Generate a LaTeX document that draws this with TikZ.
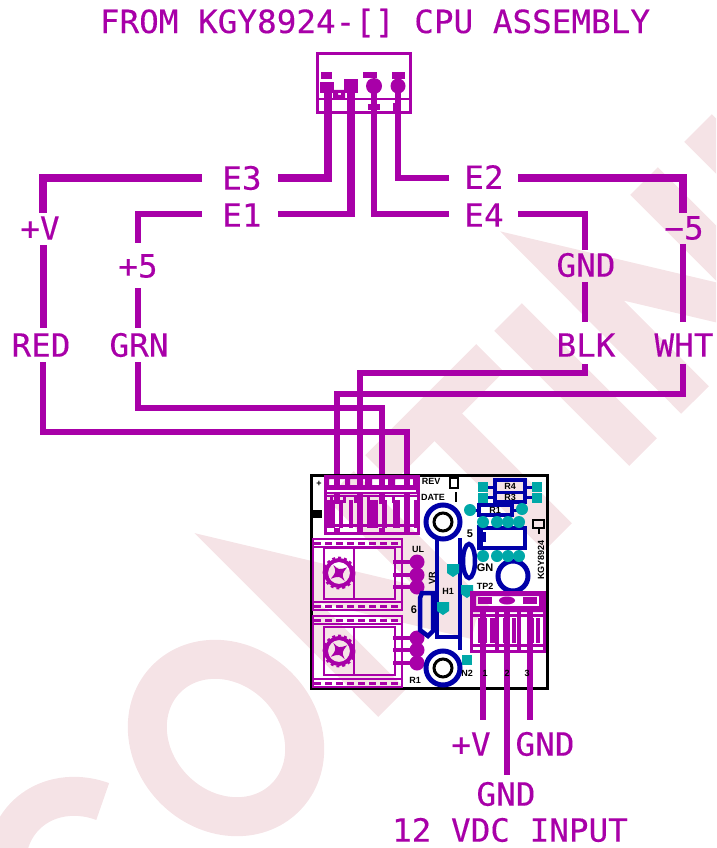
\documentclass[tikz,border=0pt]{standalone}
\usepackage{fontspec}
\setmainfont[FakeStretch=1.02,FakeBold=0.25]{DejaVu Sans Mono}
\newfontfamily\boardfont{Liberation Sans}
\definecolor{wm}{RGB}{245,227,230}
\definecolor{pur}{RGB}{168,0,168}
\definecolor{blu}{RGB}{0,0,168}
\definecolor{tea}{RGB}{0,168,168}
\tikzset{
  lab/.style={text=pur,font=\fontsize{32}{32}\selectfont,inner sep=0pt,anchor=center},
  heavy/.style={draw=pur,line width=8pt,line cap=butt,line join=miter},
  wire/.style={draw=pur,line width=6pt,line cap=butt,line join=miter},
  wmk/.style={draw=wm,line width=39pt,line cap=butt,line join=miter},
  fine/.style={draw=pur,line width=2pt},
  bl/.style={draw=blu,line width=4.5pt},
  tdot/.style={fill=tea},
  tiny/.style={text=black,font=\boardfont\bfseries\fontsize{11}{11}\selectfont,inner sep=0pt},
  small/.style={text=black,font=\boardfont\bfseries\fontsize{9}{9}\selectfont,inner sep=0pt},
}
\begin{document}
\begin{tikzpicture}[x=1pt,y=-1pt]
\useasboundingbox (0,0) rectangle (716,848);
\begin{scope}
\clip (0,0) rectangle (716,848);
% watermark
\begin{scope}[shift={(85,875)},rotate=45]
  \draw[wmk] (28:73 and 84) arc[start angle=28,end angle=332,x radius=73,y radius=84];
\end{scope}
\begin{scope}[shift={(226,738)},rotate=45]
  \draw[wmk] (0,0) ellipse[x radius=73,y radius=84];
\end{scope}
\draw[wmk] (392,703)--(257,568)--(476,620);
\draw[wmk] (340,485)--(476,620);
\draw[wmk] (379,469)--(490,358);
\draw[wmk] (434,413)--(558,537);
\draw[wmk] (508,317)--(643,452);
\draw[wmk] (695,400)--(562,266)--(778,317);
\draw[wmk] (644,181)--(779,316);
\draw[wmk] (698,128)--(760,190);
\end{scope}

% title and labels
\node[lab] (title) at (375,23) {FROM KGY8924-[] CPU ASSEMBLY};
\node[lab] (e3) at (242,178) {E3};
\node[lab] (e1) at (242,215) {E1};
\node[lab] (e2) at (484,177) {E2};
\node[lab] (e4) at (484,215) {E4};
\node[lab] (pv) at (40,228) {+V};
\node[lab] (p5) at (138,266) {+5};
\node[lab] (red) at (41,345) {RED};
\node[lab] (grn) at (139,345) {GRN};
\node[lab] (gnd) at (586,265) {GND};
\node[lab] (blk) at (586,345) {BLK};
\node[lab] (m5) at (684,228) {−5};
\node[lab] (wht) at (684,345) {WHT};
\node[lab] (bpv) at (471,744) {+V};
\node[lab] (bgnd) at (545,744) {GND};
\node[lab] (cgnd) at (506,794) {GND};
\node[lab] (vdc) at (510,830) {12 VDC INPUT};

% wires, CPU side
\coordinate (p1) at (328,84);
\coordinate (p2) at (351,84);
\coordinate (p3) at (374,84);
\coordinate (p4) at (398,84);
\draw[heavy] (p1)--(328,178)--(278,178);
\draw[heavy] (202,178)--(43,178)--(43,213);
\draw[wire,line width=7pt] (43,245)--(43,328);
\draw[heavy] (p2)--(351,217);
\draw[wire] (355,214)--(278,214);
\draw[wire] (202,214)--(138,214)--(138,243);
\draw[wire] (138,288)--(138,328);
\draw[wire] (p3)--(374,214)--(449,214);
\draw[wire] (518,214)--(585,214)--(585,250);
\draw[wire] (585,282)--(585,322);
\draw[wire] (p4)--(398,178)--(449,178);
\draw[heavy] (518,178)--(683,178)--(683,213);
\draw[wire] (683,244)--(683,322);
% wires, board side
\draw[wire] (43,362)--(43,432)--(407,432)--(407,504);
\draw[wire] (138,362)--(138,408)--(382,408)--(382,504);
\draw[wire] (585,364)--(585,373)--(360,373)--(360,504);
\draw[wire] (683,364)--(683,394)--(337,394)--(337,504);

% CPU connector
\draw[draw=pur,line width=3pt] (317,54) rectangle (410,113);
\draw[draw=pur,line width=2.5pt] (317,99)--(410,99);
\fill[pur] (320,82) rectangle (334,93);
\fill[pur] (344,79) rectangle (358,93);
\fill[pur] (374,86) circle[radius=8];
\fill[pur] (398,86) circle[radius=7.5];
\fill[pur] (321,72) rectangle (332,79);
\fill[pur] (363,72) rectangle (377,78);
\fill[pur] (392,72) rectangle (405,79);
\fill[pur,even odd rule] (333,90) rectangle (345,98) (338,93) rectangle (341,95);
\fill[pur] (368,104) rectangle (380,110);
\fill[pur] (393,103) rectangle (400,112);

% board outline
\draw[black,line width=3pt] (311,475) rectangle (547,688);

% top terminal block
\draw[draw=pur,line width=3pt] (325,476) rectangle (418,533);
\fill[pur,even odd rule] (325,476) rectangle (418,494)
  (329,479) rectangle (345,485) (350,479) rectangle (365,485)
  (372,479) rectangle (388,485) (395,479) rectangle (413,485);
\fill[white] (327,490) rectangle (416,491.5);
\foreach \x in {331,344,355,368,380,393,405}{\fill[pur] (\x-1.5,496) rectangle (\x+1.5,503);}
\fill[pur] (325,495) rectangle (418,497);
\foreach \a/\b in {325/335,339/343,349/353,357/363,367/378,382/387,393/400,404/410,414/418}{
  \fill[pur] (\a,500) rectangle (\b,528);
}
\fill[pur] (325,524) rectangle (418,527);
\foreach \x in {337,360,382,407}{\fill[pur] (\x-3,528) rectangle (\x+3,533);}

% potentiometer modules
\foreach \t/\b/\it/\ib/\cy/\pa/\pb/\pc in {539/610/548/599/573/562/575/587, 616/687/627/675/651/638/650/663}{
  \draw[fine] (313,\t) rectangle (402,\b);
  \draw[fine,dash pattern=on 7pt off 4pt,line width=3pt] (314,\t+4) -- (402,\t+4);
  \draw[fine] (313,\t+8) -- (402,\t+8);
  \draw[fine] (313,\b-8) -- (402,\b-8);
  \draw[fine,dash pattern=on 7pt off 4pt,line width=3pt] (314,\b-4) -- (402,\b-4);
  \draw[draw=pur,line width=2.5pt] (324,\it) rectangle (395,\ib);
  \draw[draw=pur,line width=2.5pt] (354,\it) -- (354,\ib);
  \draw[draw=pur,line width=4pt] (339,\cy) circle[radius=13];
  \draw[draw=pur,line width=1.8pt,dash pattern=on 3pt off 3pt] (339,\cy) circle[radius=15.5];
  \begin{scope}[shift={(339,\cy)},rotate=35]
  \fill[pur] (0,-10) .. controls (1.5,-2.5) .. (10,0) .. controls (1.5,2.5) .. (0,10) .. controls (-1.5,2.5) .. (-10,0) .. controls (-1.5,-2.5) .. cycle;
  \end{scope}
  \foreach \y in {\pa,\pb,\pc}{
    \draw[draw=pur,line width=4pt] (393,\y) -- (415,\y);
    \fill[pur] (417,\y) circle[radius=7.5];
  }
}

% blue parts
\draw[bl] (437,538) -- (437,637) -- (460,637) -- (460,538);
\draw[bl] (460,637) -- (460,650);
\draw[bl] (422,593) -- (433,593) -- (433,631) -- (428,636) -- (420,630) -- (420,598) -- cycle;
\draw[bl] (469,561) ellipse[x radius=6,y radius=17];
\foreach \y in {522,668}{
  \draw[draw=blu,line width=5pt] (443,\y) circle[radius=17];
  \draw[black,line width=3pt] (443,\y) circle[radius=9];
}
\draw[draw=blu,line width=5pt] (513,576) circle[radius=15];
\draw[draw=blu,line width=4pt] (481,528) rectangle (525,548);
\draw[draw=blu,line width=3pt] (478,525) -- (478,550);
\fill[blu] (478,532) rectangle (486,542);
\draw[draw=blu,line width=3.5pt] (495,480) rectangle (525,502);
\draw[draw=blu,line width=3pt] (495,492) -- (525,492);
\draw[draw=blu,line width=3pt] (488,487) -- (495,487) (488,497) -- (495,497) (525,487) -- (532,487) (525,497) -- (532,497);
\draw[draw=blu,line width=3.5pt] (479,505) rectangle (512,515);
\draw[draw=blu,line width=3pt] (472,510) -- (479,510) (512,510) -- (520,510);

% teal pads
\foreach \x/\y in {478/482,478/493,532/482,532/493}{\fill[tdot] (\x,\y) rectangle (\x+10,\y+10);}
\foreach \x/\y in {470/510,522/509,483/522,497/522,508/522,519/522,483/556,497/556,508/556,519/556}{\fill[tdot] (\x,\y) circle[radius=6];}
\foreach \x/\y in {453/570,443/608,467/591}{\fill[tdot] (\x-6,\y-6) -- (\x+6,\y-6) -- (\x+6,\y+3) -- (\x,\y+7) -- (\x-6,\y+3) -- cycle;}
\fill[tdot] (462,655) rectangle (472,665);

% bottom right terminal block
\fill[pur,even odd rule] (470,592) rectangle (544,612) (476,596) rectangle (539,606);
\fill[pur] (478,597) rectangle (492,604);
\fill[pur] (507,600.5) ellipse[x radius=8,y radius=4];
\fill[pur] (523,597) rectangle (537,604);
\draw[draw=pur,line width=3pt] (471,592) rectangle (544,651);
\foreach \a/\b in {478/487,490/495,503/510,512/516,527/534,536/540}{\fill[pur] (\a,618) rectangle (\b,643);}
\draw[draw=pur,line width=3pt] (470,615) -- (544,615) (470,645) -- (544,645);
\foreach \x in {497,519}{\fill[pur] (\x-2,612) rectangle (\x+2,651);}
\draw[wire] (483,612) -- (483,720);
\draw[wire] (507,612) -- (507,775);
\draw[wire] (530,612) -- (530,720);

% board texts
\node[small] (tplus) at (319,484) {+};
\fill[black] (311,510) rectangle (322,518);
\node[small] (trev) at (431,481) {REV};
\node[small] (tdate) at (433,497) {DATE};
\draw[black,line width=2.5pt] (450,478) rectangle (458,488);
\draw[black,line width=2.5pt] (456,492) -- (456,502);
\node[small] (tr4) at (510,486) {R4};
\node[small] (tr3) at (510,497) {R3};
\node[small] (tr1) at (495,510) {R1};
\node[tiny] (ts) at (470,534) {5};
\node[small] (tul) at (418,549) {UL};
\node[small,rotate=90] (tvr) at (432,578) {VR};
\node[small] (th) at (448,591) {H1};
\node[tiny] (t6) at (414,610) {6};
\node[tiny] (tgn) at (485,568) {GN};
\node[small] (ttp) at (485,586) {TP2};
\node[small] (tm) at (415,680) {R1};
\node[small] (tn) at (467,673) {N2};
\node[small] (t1) at (485,673) {1};
\node[small] (t2) at (507,673) {2};
\node[small] (t3) at (527,673) {3};
\draw[black,line width=2.5pt] (533,520) rectangle (544,528);
\draw[black,line width=2pt] (539,528) -- (539,534);
\node[small,rotate=90] (tk) at (541,560) {KGY8924};
\end{tikzpicture}
\end{document}
